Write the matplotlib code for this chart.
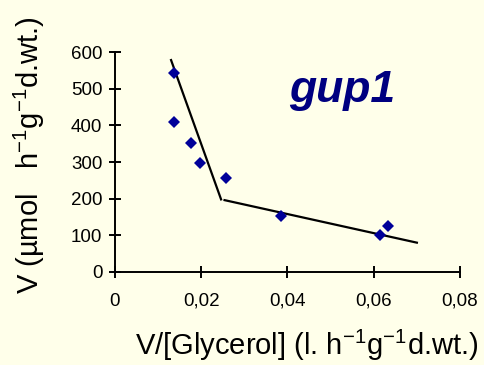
import numpy as np
import matplotlib
matplotlib.use("Agg")
import matplotlib.pyplot as plt

plt.rcParams['font.family'] = ['Liberation Sans', 'DejaVu Sans']
plt.rcParams['mathtext.fontset'] = 'custom'
plt.rcParams['mathtext.rm'] = 'Liberation Sans'
plt.rcParams['mathtext.default'] = 'regular'

# data (Eadie-Hofstee plot)
v_over_s = [0.0136, 0.0136, 0.0176, 0.0198, 0.0257, 0.0384, 0.0614, 0.0632]
v = [544, 410, 353, 296, 257, 153, 101, 125]

# two fitted line segments
fit1_x = [0.0130, 0.0246]
fit1_y = [578, 198]
fit2_x = [0.0254, 0.0700]
fit2_y = [196, 80]

xticks = [0, 0.02, 0.04, 0.06, 0.08]
xtick_labels = ['0', '0,02', '0,04', '0,06', '0,08']
yticks = [0, 100, 200, 300, 400, 500, 600]

bg = '#FFFFEA'
fig = plt.figure(figsize=(4.85, 3.65), dpi=100, facecolor=bg)
ax = fig.add_axes([115/485, 1-272/365, 345/485, 220/365])
ax.set_facecolor(bg)

ax.plot(fit1_x, fit1_y, color='black', lw=1.6)
ax.plot(fit2_x, fit2_y, color='black', lw=1.6)
ax.plot(v_over_s, v, 'D', color='#000099', markersize=6, markeredgewidth=0)

ax.set_xlim(0, 0.08)
ax.set_ylim(0, 600)
ax.set_xticks(xticks)
ax.set_xticklabels(xtick_labels)
ax.set_yticks(yticks)
for s in ['top', 'right']:
    ax.spines[s].set_visible(False)
for s in ['left', 'bottom']:
    ax.spines[s].set_linewidth(1.4)
ax.tick_params(direction='inout', length=8, width=1.4, labelsize=13.5, pad=5)
ax.tick_params(axis='x', pad=11)

# axis titles placed like the original
fig.text(307/485, 1-345/365, 'V/[Glycerol] (l. h$^{-1}$g$^{-1}$d.wt.)',
         fontsize=21, ha='center', va='center')
fig.text(29/485, 1-155/365, 'V (µmol   h$^{-1}$g$^{-1}$d.wt.)',
         fontsize=21, ha='center', va='center', rotation=90)

ax.text(0.0651, 496, 'gup1', fontsize=32, fontweight='bold', fontstyle='italic',
        color='#000080', ha='right', va='center')

fig.savefig('out.png', dpi=100, facecolor=bg)
